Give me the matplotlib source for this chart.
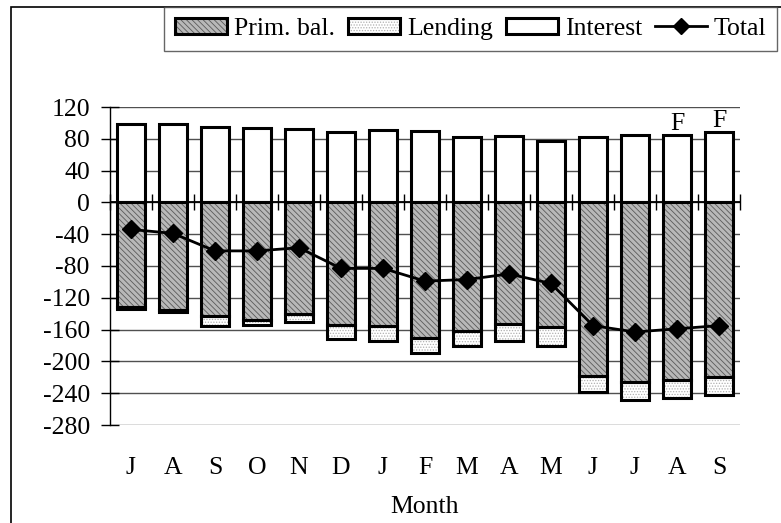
import matplotlib
matplotlib.use("Agg")
import matplotlib.pyplot as plt
import numpy as np
from matplotlib.patches import Patch, Rectangle
from matplotlib.lines import Line2D
from matplotlib.legend_handler import HandlerTuple

plt.rcParams['font.family'] = ['Liberation Serif', 'DejaVu Serif']
plt.rcParams['hatch.linewidth'] = 0.6
plt.rcParams['axes.unicode_minus'] = False

months = ['J', 'A', 'S', 'O', 'N', 'D', 'J', 'F', 'M', 'A', 'M', 'J', 'J', 'A', 'S']
interest = [99, 98, 95, 93, 92, 88, 91, 90, 82, 84, 77, 82, 85, 85, 88]
prim_bal = [-131, -135, -143, -148, -140, -154, -156, -171, -162, -153, -157, -218, -226, -224, -220]
lending = [-3, -3, -13, -6, -10, -18, -18, -19, -18, -21, -23, -20, -22, -22, -22]
total = [-34, -39, -61, -61, -57, -83, -83, -99, -97, -90, -102, -155, -163, -159, -155]
forecast_flags = ['', '', '', '', '', '', '', '', '', '', '', '', '', 'F', 'F']
yticks = [120, 80, 40, 0, -40, -80, -120, -160, -200, -240, -280]

W, H = 781, 523
fig = plt.figure(figsize=(W / 100, H / 100), dpi=100)
ax = fig.add_axes([110 / W, 1 - 425 / H, 630 / W, 318 / H])

x = np.arange(len(months))
bw = 0.667
FS = 18.5

prim_face = '#b8b8b8'
prim_hatch = '#5a5a5a'
lend_hatch = '#b0b0b0'

ax.set_ylim(-280, 120)
ax.set_xlim(-0.5, len(months) - 0.5)
ax.set_yticks(yticks)
ax.yaxis.grid(True, color='#505050', linewidth=1.0, zorder=0)
ax.set_axisbelow(True)

# interest bars (positive)
ax.bar(x, interest, bw, color='white', edgecolor='black', linewidth=2.2, zorder=3)
# primary balance: hatched fill + black outline
ax.bar(x, prim_bal, bw, color=prim_face, edgecolor=prim_hatch, linewidth=0, hatch='\\\\\\\\\\\\', zorder=3)
ax.bar(x, prim_bal, bw, fill=False, edgecolor='black', linewidth=2.2, zorder=4)
# lending stacked below primary balance
ax.bar(x, lending, bw, bottom=prim_bal, color='white', edgecolor=lend_hatch, linewidth=0, hatch='......', zorder=3)
ax.bar(x, lending, bw, bottom=prim_bal, fill=False, edgecolor='black', linewidth=2.2, zorder=4)

# zero axis line with boundary ticks
ax.axhline(0, color='black', linewidth=1.3, zorder=2)
bounds = np.arange(len(months) + 1) - 0.5
ax.vlines(bounds, -10, 10, color='black', linewidth=1.0, zorder=2, clip_on=False)

# total line
ax.plot(x, total, color='black', linewidth=2.0, marker='D', markersize=9, zorder=6)

# forecast labels
for i, f in enumerate(forecast_flags):
    if f:
        ax.annotate(f, (x[i], interest[i]), xytext=(0, 0), textcoords='offset points',
                    ha='center', va='bottom', fontsize=FS)

# axes styling
for s in ['top', 'right', 'bottom']:
    ax.spines[s].set_visible(False)
ax.spines['left'].set_linewidth(1.0)
ax.tick_params(axis='y', direction='inout', length=13, width=1.0, pad=8, labelsize=FS)
ax.set_xticks(x, months)
ax.tick_params(axis='x', length=0, pad=23, labelsize=FS)
ax.set_xlabel('Month', fontsize=FS, labelpad=12)

# legend
h_prim = (Patch(facecolor=prim_face, edgecolor=prim_hatch, linewidth=0, hatch='\\\\\\\\\\\\'),
          Patch(fill=False, edgecolor='black', linewidth=2.2))
h_lend = (Patch(facecolor='white', edgecolor=lend_hatch, linewidth=0, hatch='......'),
          Patch(fill=False, edgecolor='black', linewidth=2.2))
h_int = Patch(facecolor='white', edgecolor='black', linewidth=2.2)
h_tot = Line2D([], [], color='black', linewidth=2.0, marker='D', markersize=8)
leg = fig.legend([h_prim, h_lend, h_int, h_tot], ['Prim. bal.', 'Lending', 'Interest', 'Total'],
                 handler_map={tuple: HandlerTuple(ndivide=1, pad=0)},
                 loc='upper left', bbox_to_anchor=(164 / W, 1 - 7 / H), ncol=4,
                 fontsize=FS, frameon=True, fancybox=False, borderaxespad=0,
                 handlelength=2.05, handleheight=0.6, handletextpad=0.25, columnspacing=0.5,
                 borderpad=0.42)
leg.get_frame().set_edgecolor('#404040')
leg.get_frame().set_linewidth(1.0)

# figure border (extends beyond right/bottom edges)
fig.add_artist(Rectangle((11 / W, -0.1), 1.5, (1 - 7 / H) + 0.1, transform=fig.transFigure,
                         fill=False, edgecolor='black', linewidth=1.2))

fig.savefig('out.png', dpi=100)
